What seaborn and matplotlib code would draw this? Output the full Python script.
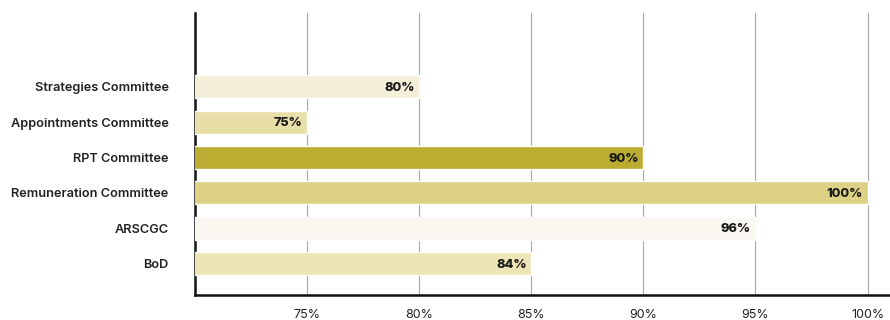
import matplotlib
matplotlib.use("Agg")
import matplotlib.pyplot as plt
import seaborn as sns
import pandas as pd
from matplotlib.ticker import FuncFormatter

committees = ["Strategies Committee", "Appointments Committee", "RPT Committee",
              "Remuneration Committee", "ARSCGC", "BoD"]
bar_values = [80, 75, 90, 100, 95, 85]
value_labels = ["80%", "75%", "90%", "100%", "96%", "84%"]
bar_colors = ["#f5efda", "#e7dea8", "#bbad32", "#ddd186", "#f9f7ef", "#eee5b6"]
x_ticks = [75, 80, 85, 90, 95, 100]

df = pd.DataFrame({"committee": committees, "value": bar_values})

sns.set_theme(style="white")
plt.rcParams["font.family"] = ["Inter", "DejaVu Sans"]

fig = plt.figure(figsize=(8.9, 3.2), dpi=100)
ax = fig.add_axes([0.219, 0.078, 0.781, 0.881])

sns.barplot(data=df, y="committee", x="value", hue="committee",
            palette=dict(zip(committees, bar_colors)), orient="h",
            width=0.65, saturation=1, legend=False, ax=ax, zorder=3)

ax.set_xlim(70, 101)
ax.set_ylim(5.89, -2.08)
ax.set_xticks(x_ticks)
ax.xaxis.set_major_formatter(FuncFormatter(lambda v, p: f"{v:.0f}%"))
ax.grid(axis="x", color="#a8a8a8", linewidth=0.8, zorder=0)
ax.grid(axis="y", visible=False)
ax.set_axisbelow(True)

for s in ["top", "right"]:
    ax.spines[s].set_visible(False)
for s in ["left", "bottom"]:
    ax.spines[s].set_color("#111111")
    ax.spines[s].set_linewidth(1.8)

ax.tick_params(axis="x", length=0, pad=10, labelsize=9, labelcolor="#222222")
ax.tick_params(axis="y", length=0, pad=19, labelsize=9.2, labelcolor="#222222")
for lab in ax.get_yticklabels():
    lab.set_fontweight("semibold")
ax.set_xlabel("")
ax.set_ylabel("")

for i, (v, t) in enumerate(zip(bar_values, value_labels)):
    ax.text(v - 0.2, i + 0.03, t, ha="right", va="center", fontsize=9.2,
            fontweight="heavy", color="#1a1a1a", zorder=4)

fig.savefig("out.png", dpi=100)
